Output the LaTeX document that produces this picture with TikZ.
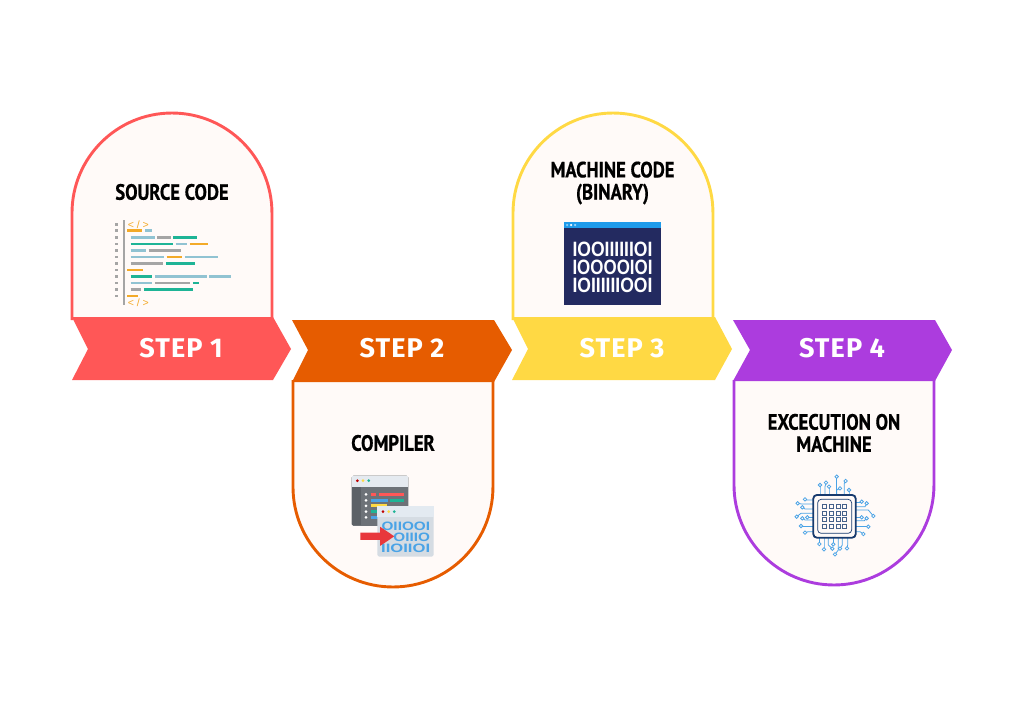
\documentclass[tikz,border=0pt]{standalone}
\usepackage{fontspec}
\usepackage{graphicx}
\setmainfont{Fira Sans}
\newfontfamily\headfont[FakeStretch=0.84,FakeBold=0.6]{PT Sans Bold}
\newfontfamily\stepfont[LetterSpace=4]{Fira Sans Bold}
\newfontfamily\bitfont{Liberation Sans}
\usetikzlibrary{arrows.meta,positioning,calc}
\definecolor{stepRed}{RGB}{255,87,87}
\definecolor{stepOrange}{RGB}{230,92,0}
\definecolor{stepYellow}{RGB}{255,217,68}
\definecolor{stepPurple}{RGB}{172,60,222}
\definecolor{panelFill}{RGB}{255,250,248}
\definecolor{codeGreen}{RGB}{30,180,150}
\definecolor{codeBlue}{RGB}{145,195,210}
\definecolor{codeGray}{RGB}{165,165,165}
\definecolor{codeOrange}{RGB}{243,170,40}
\definecolor{binNavy}{RGB}{35,42,96}
\definecolor{binBar}{RGB}{30,155,235}
\definecolor{chipNavy}{RGB}{23,58,110}
\definecolor{chipBlue}{RGB}{74,163,230}
\tikzset{
  panel/.style={draw=#1, fill=panelFill, line width=0.058cm},
  ribbon/.style={fill=#1, draw=none},
  steplabel/.style={text=white, inner sep=0pt, font=\fontsize{15.4}{15.4}\stepfont},
  titlelabel/.style={text=black, inner sep=0pt, align=center, font=\fontsize{12.6}{12.6}\headfont},
  taglabel/.style={text=codeOrange, inner sep=0pt, font=\fontsize{6}{6}\bitfont},
  bitlabel/.style={inner sep=0pt, font=\bitfont},
  codebar/.style={line width=0.058cm},
  trace/.style={draw=chipBlue, line width=0.016cm}
}
\newcommand{\bitrow}[3]{\resizebox{#1}{#2}{#3}}
\begin{document}
\begin{tikzpicture}[x=0.02cm, y=-0.02cm]
\useasboundingbox (0,0) rectangle (1024,700);
% panels
\draw[panel=stepRed] (72,320) -- (72,213) arc[start angle=180, end angle=0, radius=2cm] -- (272,320);
\draw[panel=stepOrange] (293,380) -- (293,487) arc[start angle=180, end angle=360, radius=2cm] -- (493,380);
\draw[panel=stepYellow] (513,320) -- (513,213) arc[start angle=180, end angle=0, radius=2cm] -- (713,320);
\draw[panel=stepPurple] (734,380) -- (734,485) arc[start angle=180, end angle=360, radius=2cm] -- (934,380);
% ribbons
\fill[ribbon=stepRed] (72,317) -- (273,317) -- (291,349) -- (273,380) -- (72,380) -- (88,349) -- cycle;
\fill[ribbon=stepOrange] (292,320) -- (494,320) -- (512,350) -- (494,382) -- (292,382) -- (308,350) -- cycle;
\fill[ribbon=stepYellow] (512,317) -- (715,317) -- (732,349) -- (715,380) -- (512,380) -- (528,349) -- cycle;
\fill[ribbon=stepPurple] (733,320) -- (935,320) -- (952,350) -- (935,381) -- (733,381) -- (750,350) -- cycle;
\node[steplabel] (stepone) at (181,348) {STEP 1};
\node[steplabel] (steptwo) at (402,348) {STEP 2};
\node[steplabel] (stepthree) at (622,348) {STEP 3};
\node[steplabel] (stepfour) at (842,348) {STEP 4};
% titles
\node[titlelabel] (source) at (172,192) {SOURCE CODE};
\node[titlelabel] (compiler) at (393,443) {COMPILER};
\node[titlelabel] (machinecode) at (612.5,183) {MACHINE CODE\\(BINARY)};
\node[titlelabel] (execution) at (834,433) {EXCECUTION ON\\MACHINE};
% source code icon
\begin{scope}[shift={(105,215)}, x=0.00667cm, y=-0.00667cm]
\draw[codeGray, line width=0.04cm] (57,15) -- (57,270);
\foreach \by in {28,47,67,87,106,126,146,165,184,204,224,243}
  \fill[codeGray] (31,\by-4) rectangle (39,\by+4);
\foreach \bx/\ex/\by/\bc in {66/110/47/codeOrange,120/141/47/codeBlue,
  77/149/67/codeBlue,157/197/67/codeGray,204/277/67/codeGreen,
  77/203/87/codeGreen,212/246/87/codeBlue,255/309/87/codeOrange,
  77/123/106/codeBlue,131/227/106/codeGray,
  77/177/126/codeBlue,185/232/126/codeOrange,240/340/126/codeBlue,
  77/175/146/codeGray,183/271/146/codeGreen,
  66/115/165/codeOrange,
  77/142/184/codeGreen,150/305/184/codeBlue,313/378/184/codeBlue,
  77/141/204/codeBlue,150/256/204/codeGray,264/282/204/codeGreen,
  77/108/224/codeGray,117/265/224/codeGreen,
  66/98/243/codeOrange}
  \draw[\bc, codebar] (\bx,\by) -- (\ex,\by);
\node[taglabel] (tagtop) at (100,28) {< / >};
\node[taglabel] (tagend) at (100,262) {< / >};
\end{scope}
% compiler icon
\begin{scope}[shift={(285,310)}, x=0.00667cm, y=-0.00667cm]
\fill[rounded corners=1pt, fill={rgb,255:red,109;green,114;blue,120}] (200,497) rectangle (370,648);
\fill[fill={rgb,255:red,92;green,97;blue,103}] (200,530) rectangle (228,645);
\fill[fill={rgb,255:red,229;green,234;blue,240}] (200,497) rectangle (370,530);
\foreach \bx/\bc in {217/red!75!black,234/stepYellow,251/codeGreen}
  \fill[\bc] (\bx,512) circle (0.03cm);
\foreach \by in {553,571,588,605,622}
  \fill[white] (243,\by) circle (0.03cm);
\foreach \bx/\ex/\by/\bc in {257/272/553/stepRed,282/357/553/stepRed,
  257/308/571/chipBlue,315/357/571/codeGreen,257/305/588/stepYellow,
  257/278/605/codeGreen,257/278/622/chipBlue}
  \draw[\bc, line width=0.06cm] (\bx,\by) -- (\ex,\by);
\fill[rounded corners=1pt, fill={rgb,255:red,213;green,220;blue,227}] (277,589) rectangle (446,740);
\fill[fill={rgb,255:red,227;green,234;blue,241}] (277,589) rectangle (446,621);
\foreach \bx/\bc in {294/red!75!black,311/stepYellow,328/codeGreen}
  \fill[\bc] (\bx,605) circle (0.03cm);
\node[bitlabel, text=chipBlue] (binrowa) at (362.5,648) {\bitrow{0.97cm}{0.17cm}{\bfseries OIIOOI}};
\node[bitlabel, text=chipBlue] (binrowb) at (380,681) {\bitrow{0.73cm}{0.17cm}{\bfseries OIIIO}};
\node[bitlabel, text=chipBlue] (binrowc) at (362,716) {\bitrow{0.98cm}{0.17cm}{\bfseries IIOIIOI}};
\fill[fill={rgb,255:red,232;green,55;blue,60}] (226,668) -- (285,668) -- (285,650) -- (328,679) -- (285,708) -- (285,690) -- (226,690) -- cycle;
\end{scope}
% binary icon
\fill[binNavy] (564,222) rectangle (661,305);
\fill[binBar] (564,222) rectangle (661,228);
\foreach \bx/\bc in {567/binBar!50!white,571/white,575/binBar!40!white}
  \fill[\bc] (\bx,225) circle (0.025cm);
\node[bitlabel, text=white] (binone) at (612.5,249) {\bitrow{1.6cm}{0.29cm}{\bfseries IOOIIIIIIOI}};
\node[bitlabel, text=white] (bintwo) at (612.5,267) {\bitrow{1.6cm}{0.29cm}{\bfseries IOOOOIOI}};
\node[bitlabel, text=white] (binthree) at (612.5,285) {\bitrow{1.6cm}{0.29cm}{\bfseries IOIIIIIIOOI}};
% chip icon
\begin{scope}[shift={(725,310)}, x=0.00667cm, y=-0.00667cm]
\foreach \ax/\ay/\bx/\by/\ex/\ey in {
  285/555/285/535/285/525, 300/555/300/530/303/518, 312/555/312/540/312/530,
  335/555/335/505/335/500, 335/555/335/540/345/535, 358/555/358/520/362/513, 372/555/372/545/372/540,
  283/683/283/695/283/702, 297/683/297/715/297/718, 310/683/310/705/322/716,
  325/683/325/705/325/703, 340/683/340/720/330/733, 352/683/352/705/345/716, 368/683/368/705/366/715,
  265/570/245/570/240/568, 265/582/230/582/218/580, 265/597/240/597/232/592,
  265/610/228/610/215/620, 265/622/250/622/247/622, 265/630/240/630/232/625,
  265/648/228/648/228/648, 265/665/250/665/240/668,
  392/578/410/578/410/575, 392/590/420/590/425/580, 392/600/430/600/445/618,
  392/622/405/622/410/622, 392/632/418/632/425/625, 392/650/430/650/430/650, 392/665/405/665/415/672}
{
  \draw[trace] (\ax,\ay) -- (\bx,\by) -- (\ex,\ey);
  \draw[trace, fill=panelFill] (\ex,\ey) circle (0.035cm);
}
\draw[chipNavy, fill=panelFill, line width=0.036cm, rounded corners=2pt] (265,555) rectangle (392,683);
\draw[chipNavy, line width=0.014cm, rounded corners=2pt] (278,568) rectangle (380,670);
\foreach \bx in {298,319,339,359}
  \foreach \by in {590,609,629,649}
    \draw[chipNavy!80, fill=panelFill, line width=0.016cm] (\bx-6,\by-6) rectangle (\bx+6,\by+6);
\end{scope}
\end{tikzpicture}
\end{document}
